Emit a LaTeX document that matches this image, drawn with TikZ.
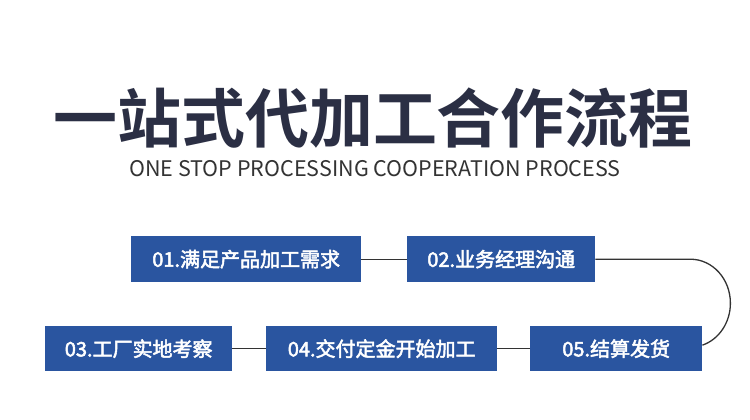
\documentclass[tikz,border=0pt]{standalone}
\usepackage{fontspec}
\setmainfont{Noto Sans CJK SC}
\newfontfamily\cjk{Noto Sans CJK SC}
\newfontfamily\cjkmed[FakeBold=2.5]{Noto Sans CJK SC}
\newfontfamily\cjkbold{Noto Sans CJK SC Bold}
\definecolor{boxblue}{HTML}{2A55A0}
\definecolor{titlenavy}{HTML}{2B2F44}
\definecolor{subgray}{HTML}{333333}
\definecolor{linegray}{HTML}{333333}
\tikzset{
  stepbox/.style={fill=boxblue, text=white, inner sep=0pt, anchor=north west,
    font=\cjkmed\fontsize{20}{24}\selectfont},
  link/.style={draw=linegray, line width=1.3pt}
}
\begin{document}
\begin{tikzpicture}[x=1pt,y=-1pt]
\useasboundingbox[fill=white] (0,0) rectangle (750,420);
\node[text=titlenavy, font=\cjkbold\fontsize{64}{70}\selectfont] (title) at (373,118) {一站式代加工合作流程};
\node[text=subgray, font=\cjk\fontsize{21.5}{24}\selectfont] (sub) at (375,169) {ONE STOP PROCESSING COOPERATION PROCESS};
\node[stepbox, minimum width=230pt, minimum height=46pt] (s1) at (131,236) {01.满足产品加工需求};
\node[stepbox, minimum width=188pt, minimum height=46pt] (s2) at (407,236) {02.业务经理沟通};
\node[stepbox, minimum width=187pt, minimum height=45pt] (s3) at (45,326) {03.工厂实地考察};
\node[stepbox, minimum width=231pt, minimum height=45pt] (s4) at (266,326) {04.交付定金开始加工};
\node[stepbox, minimum width=172pt, minimum height=45pt] (s5) at (530,326) {05.结算发货};
\draw[link] (s1.east) -- (s2.west);
\draw[link] (s2.east) -- ++(95,0) coordinate (c1)
  arc[start angle=-90, end angle=72.5, x radius=40, y radius=44] coordinate (c2);
\draw[link] (s4.east) -- (s5.west);
\draw[link] (s3.east) -- (s4.west);
\end{tikzpicture}
\end{document}
